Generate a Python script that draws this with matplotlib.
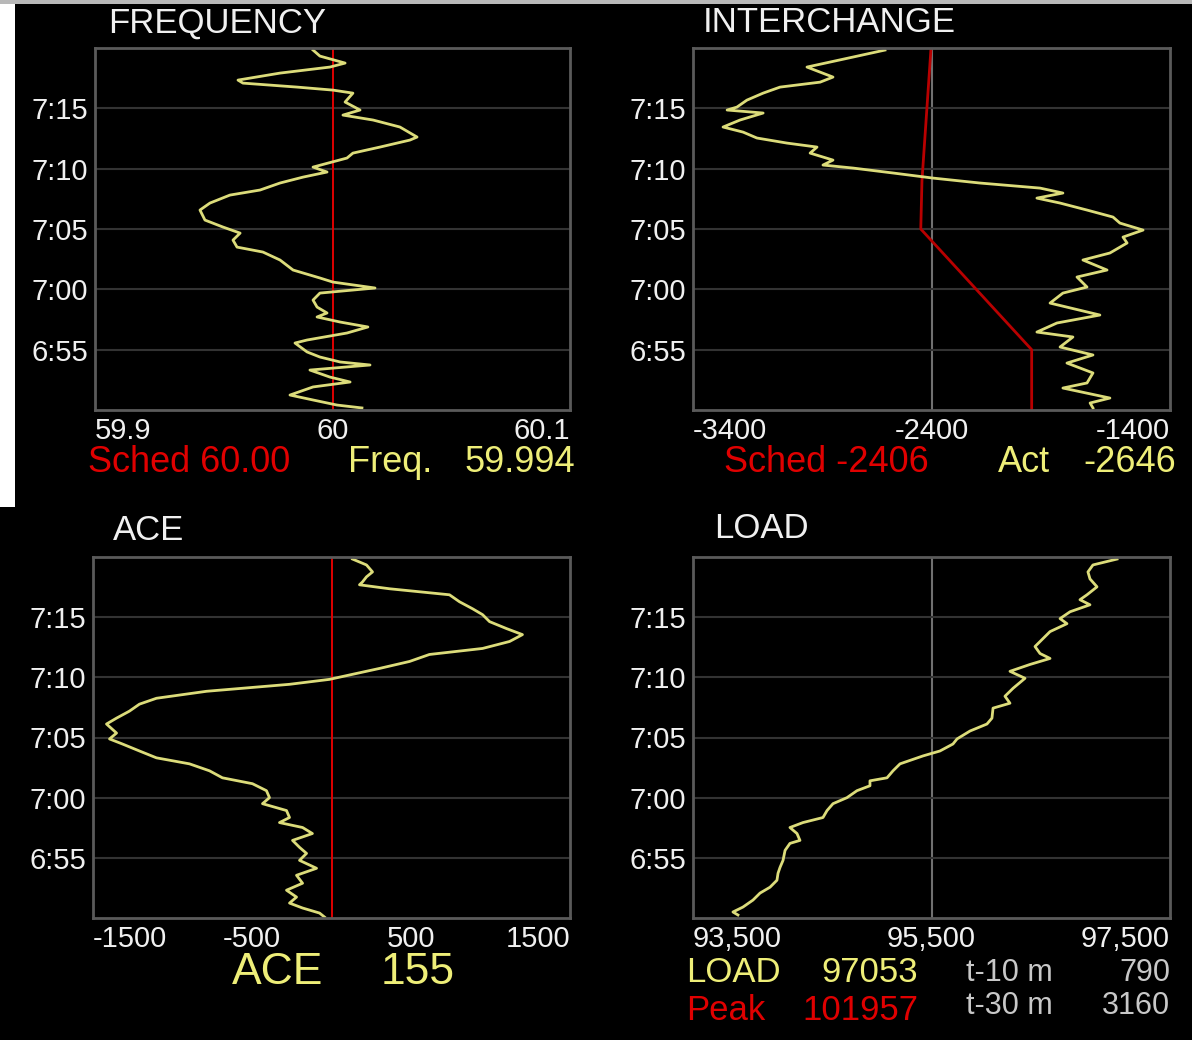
import matplotlib
matplotlib.use('Agg')
import matplotlib.pyplot as plt
from matplotlib.patches import Rectangle

plt.rcParams['font.family'] = ['Liberation Sans', 'DejaVu Sans']

# time axis: minutes after 6:50
tick_min = [5, 10, 15, 20, 25]
tick_lbl = ['6:55', '7:00', '7:05', '7:10', '7:15']

# FREQUENCY (Hz), newest first
freq_t = [29.83, 29.33, 28.75, 28.42, 27.92, 27.34, 27.09, 26.76, 26.51, 26.26,
          25.52, 24.86, 24.44, 24.03, 23.45, 22.62, 22.37, 21.79, 21.29, 20.88,
          20.55, 20.13, 19.72, 19.30, 18.81, 18.23, 17.81, 17.15, 16.57, 15.74,
          15.16, 14.66, 14.08, 13.50, 13.09, 12.43, 11.60, 10.94, 10.60, 10.11,
          9.69, 9.11, 8.53, 8.04, 7.71, 7.29, 6.88, 6.38, 5.80, 5.55,
          4.81, 4.39, 3.98, 3.73, 3.31, 2.73, 2.32, 1.91, 1.24, 0.83, 0.41, 0.17]
freq_v = [59.9918, 59.9947, 60.0053, 59.9989, 59.9779, 59.9602, 59.9623, 59.9851, 60.0002, 60.0086,
          60.0053, 60.0116, 60.0044, 60.0171, 60.0284, 60.0356, 60.0326, 60.0200, 60.0086, 60.0061,
          59.9998, 59.9918, 59.9977, 59.9876, 59.9779, 59.9695, 59.9568, 59.9484, 59.9442, 59.9463,
          59.9539, 59.9611, 59.9581, 59.9598, 59.9707, 59.9779, 59.9834, 59.9947, 60.0002, 60.0179,
          59.9947, 59.9918, 59.9935, 59.9977, 59.9935, 60.0032, 60.0149, 60.0061, 59.9893, 59.9842,
          59.9893, 59.9947, 60.0032, 60.0158, 59.9905, 59.9989, 60.0074, 59.9918, 59.9821, 59.9918, 60.0019, 60.0124]
freq_sched = 60.0

# INTERCHANGE (MW)
inter_t = [29.83, 29.25, 28.42, 28.00, 27.59, 27.17, 26.76, 26.26, 25.68, 25.10,
           24.86, 24.61, 24.03, 23.45, 23.03, 22.54, 22.12, 21.79, 21.29, 20.71,
           20.30, 20.05, 19.64, 19.22, 18.81, 18.39, 17.98, 17.56, 17.15, 16.57,
           15.99, 15.49, 14.91, 14.33, 13.84, 13.01, 12.43, 11.60, 11.02, 10.19,
           9.69, 8.86, 7.87, 7.21, 6.46, 6.05, 5.22, 4.56, 3.89, 3.07,
           2.24, 1.82, 0.99, 0.58, 0.17]
inter_v = [-2595, -2729, -2922, -2867, -2813, -2867, -3035, -3106, -3174, -3216,
           -3257, -3106, -3203, -3274, -3190, -3132, -3006, -2880, -2909, -2813,
           -2855, -2729, -2561, -2394, -2197, -1945, -1849, -1958, -1861, -1748,
           -1639, -1610, -1513, -1597, -1580, -1652, -1765, -1664, -1790, -1748,
           -1849, -1903, -1694, -1874, -1958, -1807, -1861, -1723, -1832, -1723,
           -1748, -1849, -1652, -1735, -1723]
sched_t = [30.0, 19.0, 15.0, 5.0, 0.0]
sched_v = [-2402, -2440, -2445, -1980, -1980]

# ACE (MW)
ace_t = [29.83, 29.34, 28.76, 28.35, 27.93, 27.69, 27.36, 26.86, 26.28, 25.70,
         25.21, 24.63, 24.05, 23.55, 22.98, 22.40, 21.90, 21.32, 20.74, 20.25,
         19.83, 19.42, 18.84, 18.26, 17.77, 17.19, 16.61, 16.12, 15.37, 14.88,
         14.46, 13.88, 13.31, 12.81, 12.23, 11.65, 11.16, 10.58, 10.00, 9.50,
         8.93, 8.35, 7.93, 7.52, 7.02, 6.45, 5.87, 5.37, 4.79, 4.13,
         3.55, 2.89, 2.31, 1.74, 1.24, 0.83, 0.41, 0.08]
ace_v = [132, 220, 258, 220, 195, 176, 365, 742, 805, 887,
         950, 994, 1101, 1201, 1120, 950, 616, 491, 302, 132,
         -13, -264, -786, -1101, -1208, -1271, -1352, -1415, -1352, -1396,
         -1315, -1208, -1101, -893, -767, -686, -497, -409, -390, -434,
         -283, -264, -327, -182, -120, -245, -201, -157, -201, -94,
         -220, -182, -283, -220, -264, -182, -75, -44]

# LOAD (MW)
load_t = [29.83, 29.34, 28.76, 28.18, 27.52, 26.86, 26.45, 26.03, 25.45, 24.88,
          24.46, 23.80, 23.22, 22.56, 21.98, 21.57, 21.07, 20.50, 19.92, 19.09,
          18.43, 17.85, 17.44, 16.61, 16.12, 15.54, 14.88, 14.46, 13.88, 13.47,
          12.81, 12.23, 11.65, 11.40, 10.99, 10.58, 10.00, 9.50, 8.93, 8.35,
          7.93, 7.52, 7.02, 6.45, 6.20, 5.62, 4.79, 4.21, 3.72, 3.14,
          2.56, 2.07, 1.49, 0.91, 0.50, 0.25]
load_v = [97056, 96854, 96812, 96829, 96888, 96804, 96745, 96829, 96662, 96578,
          96636, 96494, 96435, 96368, 96410, 96494, 96326, 96158, 96284, 96184,
          96116, 96158, 96016, 96007, 95965, 95823, 95714, 95680, 95571, 95429,
          95236, 95177, 95127, 94984, 94984, 94875, 94791, 94674, 94624, 94590,
          94422, 94313, 94372, 94397, 94313, 94272, 94255, 94230, 94213, 94204,
          94146, 94062, 94003, 93919, 93835, 93877]

WHITE = '#f0f0f0'
YEL_LINE = '#dcdc7a'
YEL_TXT = '#eeee78'
RED = '#e00000'

fig = plt.figure(figsize=(11.92, 10.40), dpi=100, facecolor='black')
W, H = 1192, 1040

# screenshot leftovers: white strip at left, grey bar on top
fig.patches.append(Rectangle((0, 1 - 507 / H), 15 / W, 507 / H, transform=fig.transFigure,
                             facecolor='white', edgecolor='none'))
fig.patches.append(Rectangle((0, 1 - 4 / H), 1, 4 / H, transform=fig.transFigure,
                             facecolor='#b8b8b8', edgecolor='none'))


def panel(x0, y0, x1, y1, xlim, xticks, xlabels):
    ax = fig.add_axes([x0 / W, 1 - y1 / H, (x1 - x0) / W, (y1 - y0) / H])
    ax.set_facecolor('black')
    ax.set_xlim(xlim)
    ax.set_ylim(0, 30)
    ax.set_yticks(tick_min)
    ax.set_yticklabels(tick_lbl)
    ax.set_xticks(xticks)
    ax.set_xticklabels(xlabels)
    ax.tick_params(length=0, colors=WHITE, labelsize=21, pad=5)
    lbls = ax.get_xticklabels()
    lbls[0].set_ha('left')
    lbls[-1].set_ha('right')
    for s in ax.spines.values():
        s.set_color('#5a5a5a')
        s.set_linewidth(2)
    ax.grid(axis='y', color='#333333', lw=1.5)
    ax.set_axisbelow(True)
    return ax


ax1 = panel(95, 48, 570, 410, (59.9, 60.1), [59.9, 60.0, 60.1], ['59.9', '60', '60.1'])
ax1.axvline(freq_sched, color=RED, lw=1.4)
ax1.plot(freq_v, freq_t, color=YEL_LINE, lw=2)

ax2 = panel(693, 48, 1170, 410, (-3400, -1400), [-3400, -2400, -1400], ['-3400', '-2400', '-1400'])
ax2.axvline(-2400, color='#707070', lw=1.5, zorder=0.5)
ax2.plot(sched_v, sched_t, color='#b80000', lw=2)
ax2.plot(inter_v, inter_t, color=YEL_LINE, lw=2)

ax3 = panel(93, 557, 570, 918, (-1500, 1500), [-1500, -500, 500, 1500], ['-1500', '-500', '500', '1500'])
ax3.axvline(0, color=RED, lw=1.4)
ax3.plot(ace_v, ace_t, color=YEL_LINE, lw=2)

ax4 = panel(693, 557, 1170, 918, (93500, 97500), [93500, 95500, 97500], ['93,500', '95,500', '97,500'])
ax4.axvline(95500, color='#707070', lw=1.5, zorder=0.5)
ax4.plot(load_v, load_t, color=YEL_LINE, lw=2)


def txt(x, y, s, color, size, ha='left'):
    fig.text(x / W, 1 - y / H, s, color=color, fontsize=size, ha=ha, va='center')


txt(108, 23, 'FREQUENCY', WHITE, 25)
txt(703, 23, 'INTERCHANGE', WHITE, 25)
txt(113, 531, 'ACE', WHITE, 25)
txt(714, 529, 'LOAD', WHITE, 25)

txt(88, 463, 'Sched 60.00', RED, 26)
txt(348, 463, 'Freq.', YEL_TXT, 26)
txt(575, 463, '59.994', YEL_TXT, 26, ha='right')
txt(724, 463, 'Sched -2406', RED, 26)
txt(998, 463, 'Act', YEL_TXT, 26)
txt(1176, 463, '-2646', YEL_TXT, 26, ha='right')

txt(232, 973, 'ACE', YEL_TXT, 32)
txt(455, 973, '155', YEL_TXT, 32, ha='right')

txt(686, 973, 'LOAD', YEL_TXT, 25)
txt(918, 973, '97053', YEL_TXT, 25, ha='right')
txt(966, 973, 't-10 m', '#c8c8c8', 22)
txt(1170, 973, '790', '#c8c8c8', 22, ha='right')
txt(686, 1010, 'Peak', RED, 25)
txt(918, 1010, '101957', RED, 25, ha='right')
txt(966, 1006, 't-30 m', '#c8c8c8', 22)
txt(1170, 1006, '3160', '#c8c8c8', 22, ha='right')

fig.savefig('out.png', dpi=100, facecolor='black')
